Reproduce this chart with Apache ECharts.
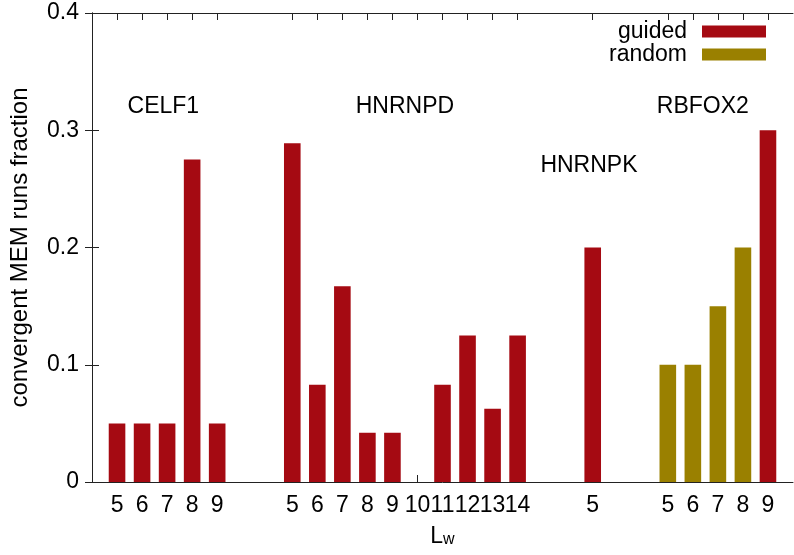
<!DOCTYPE html>
<html>
<head>
<meta charset="utf-8">
<script src="https://cdn.jsdelivr.net/npm/echarts@6/dist/echarts.min.js"></script>
<style>
  html, body { margin: 0; padding: 0; background: #fff; }
  #chart { width: 794px; height: 555px; }
</style>
</head>
<body>
<div id="chart"></div>
<script>
// proteins and their window lengths L_w
const groups = ['CELF1', 'HNRNPD', 'HNRNPK', 'RBFOX2'];
const lwByGroup = [
  [5, 6, 7, 8, 9],
  [5, 6, 7, 8, 9, 10, 11, 12, 13, 14],
  [5],
  [5, 6, 7, 8, 9]
];
// fraction of convergent runs, one entry per L_w (null = no bar)
const guided = [
  [0.05, 0.05, 0.05, 0.275, 0.05],
  [0.289, 0.083, 0.167, 0.042, 0.042, 0, 0.083, 0.125, 0.0625, 0.125],
  [0.2],
  [null, null, null, null, 0.3]
];
const random = [
  [null, null, null, null, null],
  [null, null, null, null, null, null, null, null, null, null],
  [null],
  [0.1, 0.1, 0.15, 0.2, null]
];
// where the protein names are written (data units)
const groupLabelX = [2.85, 12.5, 19.85, 24.4];
const groupLabelY = [0.32, 0.32, 0.27, 0.32];

// slot positions: two empty slots between proteins
let positions = [], tickText = [], guidedData = [], randomData = [];
let slot = 1;
groups.forEach((g, gi) => {
  lwByGroup[gi].forEach((lw, i) => {
    positions.push(slot);
    tickText.push(String(lw));
    if (guided[gi][i] != null) guidedData.push([slot, guided[gi][i]]);
    if (random[gi][i] != null) randomData.push([slot, random[gi][i]]);
    slot++;
  });
  slot += 2;
});
const xMax = slot - 2;

const font = "'Liberation Sans', Arial, Helvetica, sans-serif";
const axisColor = '#222';

let chart = echarts.init(document.getElementById('chart'));
chart.setOption({
  animation: false,
  textStyle: { fontFamily: font, color: '#000' },
  grid: { left: 90, right: 1, top: 13, bottom: 73, containLabel: false },
  legend: {
    orient: 'vertical',
    right: 28,
    top: 20,
    padding: 0,
    align: 'right',
    icon: 'rect',
    itemWidth: 64,
    itemHeight: 12,
    itemGap: 0,
    textStyle: { fontSize: 23, color: '#000', padding: [0, 10, 0, 0] },
    data: ['guided', 'random']
  },
  xAxis: [
    {
      type: 'value', min: 0, max: xMax, position: 'bottom',
      axisLine: { show: true, onZero: false, lineStyle: { color: axisColor, width: 1 } },
      axisTick: { show: true, inside: true, length: 7, customValues: positions, lineStyle: { color: axisColor } },
      axisLabel: {
        customValues: positions, fontSize: 23, margin: 12, color: '#000',
        formatter: v => tickText[positions.indexOf(v)] || ''
      },
      splitLine: { show: false },
      name: '{L|L}{w|w}',
      nameLocation: 'middle',
      nameGap: 38,
      nameTextStyle: {
        rich: {
          L: { fontSize: 23, lineHeight: 23, verticalAlign: 'top', fontFamily: font, color: '#000' },
          w: { fontSize: 16, lineHeight: 16, verticalAlign: 'bottom', padding: [10, 0, 0, 0], fontFamily: font, color: '#000' }
        }
      }
    },
    {
      type: 'value', min: 0, max: xMax, position: 'top',
      axisLine: { show: true, onZero: false, lineStyle: { color: axisColor, width: 1 } },
      axisTick: { show: true, inside: true, length: 7, customValues: positions, lineStyle: { color: axisColor } },
      axisLabel: { show: false },
      splitLine: { show: false }
    }
  ],
  yAxis: [
    {
      type: 'value', min: 0, max: 0.4, interval: 0.1, position: 'left',
      axisLine: { show: true, lineStyle: { color: axisColor, width: 1 } },
      axisTick: { show: true, inside: true, length: 7, lineStyle: { color: axisColor } },
      axisLabel: {
        fontSize: 23, margin: 13, color: '#000',
        formatter: v => (v === 0 ? '0' : v.toFixed(1))
      },
      splitLine: { show: false },
      name: 'convergent MEM runs fraction',
      nameLocation: 'middle',
      nameGap: 60,
      nameTextStyle: { fontSize: 24, color: '#000' }
    },
    {
      type: 'value', min: 0, max: 0.4, interval: 0.1, position: 'right',
      axisLine: { show: true, lineStyle: { color: axisColor, width: 1 } },
      axisTick: { show: true, inside: true, length: 7, lineStyle: { color: axisColor } },
      axisLabel: { show: false },
      splitLine: { show: false }
    }
  ],
  series: [
    {
      name: 'guided', type: 'bar', barWidth: 16.6, barGap: '-100%',
      itemStyle: { color: '#a50a12' },
      data: guidedData
    },
    {
      name: 'random', type: 'bar', barWidth: 16.6, barGap: '-100%',
      itemStyle: { color: '#9a8000' },
      data: randomData
    },
    {
      name: 'labels', type: 'scatter', symbolSize: 0, silent: true,
      itemStyle: { opacity: 1 },
      label: {
        show: true, position: [0, 0], align: 'center', verticalAlign: 'middle',
        fontSize: 23, color: '#000', opacity: 1, textBorderWidth: 0,
        formatter: p => p.name
      },
      data: groups.map((g, i) => ({ name: g, value: [groupLabelX[i], groupLabelY[i]] }))
    }
  ]
});
</script>
</body>
</html>
